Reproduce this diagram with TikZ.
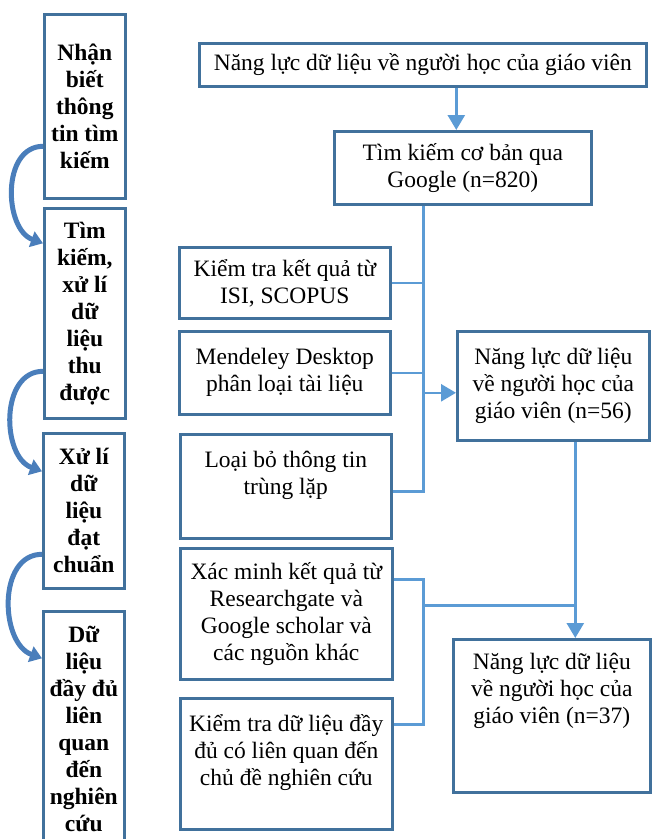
\documentclass[tikz,border=0pt]{standalone}
\usepackage{fontspec}
\setmainfont{Liberation Serif}
\usepackage{tikz}
\usetikzlibrary{arrows.meta}

\definecolor{boxblue}{RGB}{65,113,156}
\definecolor{lineblue}{RGB}{91,155,213}
\definecolor{curveblue}{RGB}{74,126,187}

\begin{document}
\begin{tikzpicture}[x=1pt,y=1pt,>={Triangle[width=17pt,length=15pt]},
	stage node/.style={draw=boxblue,line width=2.6pt,anchor=north west,align=center,minimum width=81pt,inner sep=2pt,font=\bfseries\fontsize{23.5}{27}\selectfont},
	step node/.style={draw=boxblue,line width=2.6pt,anchor=north west,align=center,inner sep=3pt,font=\fontsize{23.5}{27}\selectfont},
	link/.style={draw=lineblue,line width=2.6pt},
	turn/.style={draw=curveblue,line width=5pt,-{Triangle[width=16pt,length=12pt]}}]
	
	\useasboundingbox (0,0) rectangle (655,-839);
	\clip (0,0) rectangle (655,-839);
	
	\node[stage node,minimum height=184pt] (l1) at (43,-13) {Nhận\\biết\\thông\\tin tìm\\kiếm};
	\node[stage node,minimum height=210pt] (l2) at (43,-207) {Tìm\\kiếm,\\xử lí\\dữ\\liệu\\thu\\được};
	\node[stage node,minimum height=155pt] (l3) at (42,-432) {Xử lí\\dữ\\liệu\\đạt\\chuẩn};
	\node[stage node,minimum height=236pt] (l4) at (42,-610) {Dữ\\liệu\\đầy đủ\\liên\\quan\\đến\\nghiên\\cứu};
	
	\node[step node,minimum width=447pt,minimum height=43pt] (top) at (198,-42) {Năng lực dữ liệu về người học của giáo viên};
	\node[step node,minimum width=257pt,minimum height=73pt] (google) at (333,-130) {Tìm kiếm cơ bản qua\\Google (n=820)};
	\node[step node,minimum width=211pt,minimum height=71pt] (isi) at (178,-246) {Kiểm tra kết quả từ\\ISI, SCOPUS};
	\node[step node,minimum width=211pt,minimum height=83pt] (mendeley) at (178,-330) {Mendeley Desktop\\phân loại tài liệu};
	\node[step node,minimum width=211pt,minimum height=104pt] (dup) at (179,-433) {Loại bỏ thông tin\\trùng lặp\\~};
	\node[step node,minimum width=192pt,minimum height=109pt] (n56) at (456,-330) {Năng lực dữ liệu\\về người học của\\giáo viên (n=56)};
	\node[step node,minimum width=212pt,minimum height=131pt] (verify) at (179,-547) {Xác minh kết quả từ\\Researchgate và\\Google scholar và\\các nguồn khác};
	\node[step node,minimum width=212pt,minimum height=131pt] (full) at (179,-697) {Kiểm tra dữ liệu đầy\\đủ có liên quan đến\\chủ đề nghiên cứu\\~};
	\node[step node,minimum width=197pt,minimum height=153pt] (n37) at (452,-638) {Năng lực dữ liệu\\về người học của\\giáo viên (n=37)\\~\\~};
	
	\coordinate (trunk) at ([xshift=-39.5pt]google.south);
	\coordinate (in56) at ([yshift=-7pt]n56.west);
	\coordinate (drop) at ([xshift=22pt]n56.south);
	\coordinate (vout) at ([yshift=34.5pt]verify.east);
	\coordinate (fout) at ([yshift=39.5pt]full.east);
	\coordinate (join) at ([yshift=8.5pt]verify.east);
	
	\draw[link,->] ([xshift=33.5pt]top.south) -- ([xshift=-6.5pt]google.north);
	\draw[link] (trunk) |- ([yshift=-5pt]dup.east);
	\draw[link] (isi.east) -- (isi.east -| trunk);
	\draw[link] (mendeley.east) -- (mendeley.east -| trunk);
	\draw[link,->] (in56 -| trunk) -- (in56);
	\draw[link,->] (drop) -- (drop |- n37.north);
	\draw[link] (vout) -| (fout -| trunk) -- (fout);
	\draw[link] (join -| trunk) -- (join -| drop);
	
	\draw[turn] ([yshift=-40pt]l1.west) to[out=180,in=160,looseness=1.1] ([yshift=70pt]l2.west);
	\draw[turn] ([yshift=-58pt]l2.west) to[out=180,in=160,looseness=1.1] ([yshift=39.5pt]l3.west);
	\draw[turn] ([yshift=-43.5pt]l3.west) to[out=180,in=160,looseness=1.1] ([yshift=71pt]l4.west);
\end{tikzpicture}
\end{document}
